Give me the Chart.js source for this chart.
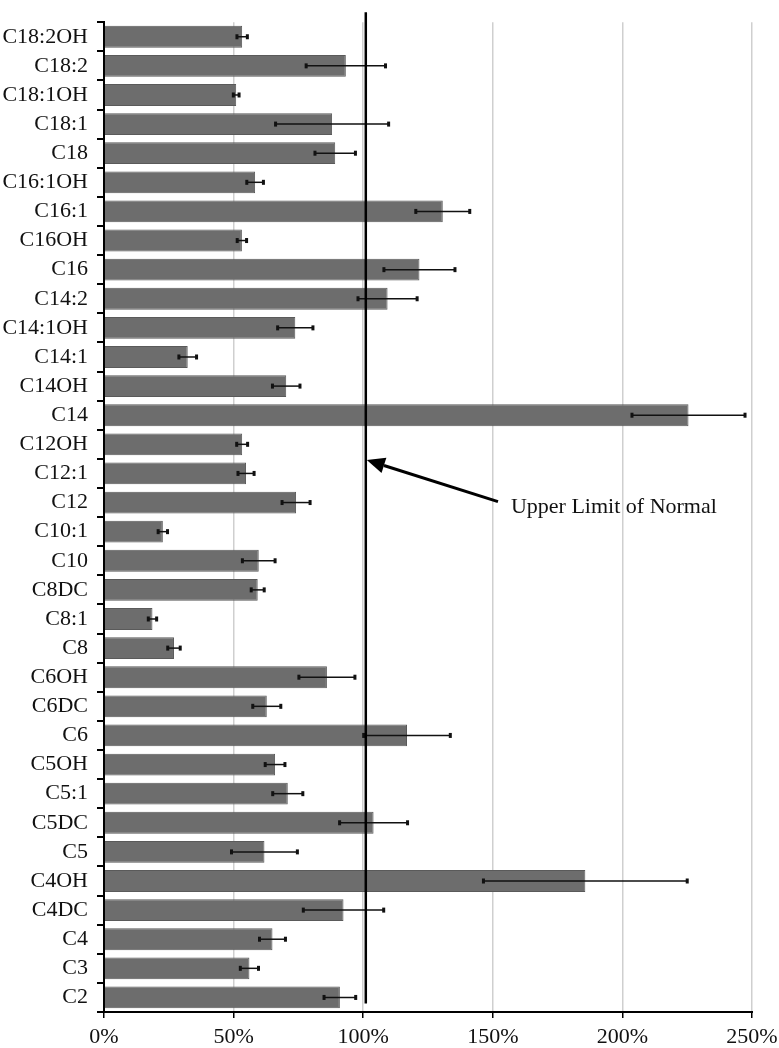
<!DOCTYPE html>
<html>
<head>
<meta charset="utf-8">
<script src="https://cdn.jsdelivr.net/npm/chart.js@4.4.0/dist/chart.umd.min.js"></script>
<style>
  html, body { margin: 0; padding: 0; background: #fff; }
  #wrap { width: 779px; height: 1048px; }
</style>
</head>
<body>
<div id="wrap"><canvas id="acylChart" width="779" height="1048"></canvas></div>
<script>
const labels = ['C18:2OH', 'C18:2', 'C18:1OH', 'C18:1', 'C18', 'C16:1OH', 'C16:1', 'C16OH', 'C16',
  'C14:2', 'C14:1OH', 'C14:1', 'C14OH', 'C14', 'C12OH', 'C12:1', 'C12', 'C10:1', 'C10', 'C8DC',
  'C8:1', 'C8', 'C6OH', 'C6DC', 'C6', 'C5OH', 'C5:1', 'C5DC', 'C5', 'C4OH', 'C4DC', 'C4', 'C3', 'C2'];
const values = [53.3, 93.3, 51, 88, 89.2, 58.3, 130.7, 53.2, 121.7,
  109.4, 73.8, 32.3, 70.3, 225.5, 53.3, 54.8, 74.1, 22.7, 59.7, 59.3,
  18.7, 27, 86, 62.8, 116.9, 66, 70.9, 104, 61.9, 185.7, 92.4, 65, 56.1, 91];
const errors = [2.2, 15.5, 1.3, 22, 8, 3.4, 10.6, 2, 13.9,
  11.6, 7, 3.6, 5.5, 22, 2.3, 3.3, 5.6, 2, 6.5, 2.7,
  1.8, 2.6, 11, 5.6, 16.9, 4, 6, 13.3, 12.9, 39.5, 15.7, 5.2, 3.7, 6.3];
const xTicks = [0, 50, 100, 150, 200, 250];
const upperLimit = 101;
const noteText = 'Upper Limit of Normal';

const serif = '"Liberation Serif", "Times New Roman", serif';

// error bars, limit line and the arrow note
const overlay = {
  id: 'overlay',
  afterDatasetsDraw(chart) {
    const { ctx, chartArea, scales: { x, y } } = chart;
    ctx.save();

    // axis lines on top of the bars
    ctx.strokeStyle = '#000';
    ctx.lineWidth = 2;
    ctx.beginPath();
    ctx.moveTo(chartArea.left, chartArea.top);
    ctx.lineTo(chartArea.left, chartArea.bottom);
    ctx.lineTo(chartArea.right + 1, chartArea.bottom);
    ctx.stroke();

    ctx.strokeStyle = '#111';
    ctx.fillStyle = '#111';
    ctx.lineWidth = 1.5;
    values.forEach((v, i) => {
      const cy = y.getPixelForValue(i);
      const x1 = x.getPixelForValue(v - errors[i]);
      const x2 = x.getPixelForValue(v + errors[i]);
      ctx.beginPath();
      ctx.moveTo(x1, cy);
      ctx.lineTo(x2, cy);
      ctx.stroke();
      ctx.fillRect(x1 - 1, cy - 2.5, 3, 5);
      ctx.fillRect(x2 - 2, cy - 2.5, 3, 5);
    });

    const lx = x.getPixelForValue(upperLimit);
    ctx.strokeStyle = '#000';
    ctx.lineWidth = 2.5;
    ctx.beginPath();
    ctx.moveTo(lx, chartArea.top - 10);
    ctx.lineTo(lx, y.getPixelForValue(labels.length - 1) + 6);
    ctx.stroke();

    // arrow from the note to the line
    const tipX = lx + 1, tipY = y.getPixelForValue(14.54);
    const tailX = x.getPixelForValue(152), tailY = y.getPixelForValue(15.97);
    const ang = Math.atan2(tipY - tailY, tipX - tailX);
    const headLen = 18, headW = 8;
    const bx = tipX - headLen * Math.cos(ang), by = tipY - headLen * Math.sin(ang);
    ctx.lineWidth = 3;
    ctx.beginPath();
    ctx.moveTo(tailX, tailY);
    ctx.lineTo(bx, by);
    ctx.stroke();
    ctx.fillStyle = '#000';
    ctx.beginPath();
    ctx.moveTo(tipX, tipY);
    ctx.lineTo(bx + headW * Math.sin(ang), by - headW * Math.cos(ang));
    ctx.lineTo(bx - headW * Math.sin(ang), by + headW * Math.cos(ang));
    ctx.closePath();
    ctx.fill();

    ctx.font = '22px ' + serif;
    ctx.textAlign = 'left';
    ctx.textBaseline = 'alphabetic';
    ctx.fillStyle = '#111';
    ctx.fillText(noteText, x.getPixelForValue(157), y.getPixelForValue(16.08) + 8);

    ctx.restore();
  }
};

const ctx = document.getElementById('acylChart').getContext('2d');
new Chart(ctx, {
  type: 'bar',
  data: {
    labels,
    datasets: [{
      data: values,
      backgroundColor: '#6d6d6d',
      borderColor: '#5a5a5a',
      borderWidth: 1,
      barPercentage: 0.75,
      categoryPercentage: 1
    }]
  },
  options: {
    indexAxis: 'y',
    responsive: false,
    animation: false,
    layout: { padding: { top: 13, right: 27, left: 0, bottom: 0 } },
    plugins: { legend: { display: false }, tooltip: { enabled: false } },
    scales: {
      x: {
        min: 0,
        max: 250,
        afterBuildTicks: s => { s.ticks = xTicks.map(v => ({ value: v })); },
        afterFit: s => { s.height = 36; s.paddingRight = 0; },
        grid: { color: '#cfcfcf', lineWidth: 1.5, tickColor: '#000', tickLength: 6 },
        border: { color: '#000', width: 2 },
        ticks: {
          callback: v => v + '%',
          color: '#111',
          padding: 6,
          maxRotation: 0,
          font: { family: serif, size: 22 }
        }
      },
      y: {
        afterFit: s => { s.width = 104; },
        grid: { drawOnChartArea: false, tickColor: '#000', tickLength: 7, lineWidth: 2 },
        border: { color: '#000', width: 2 },
        ticks: {
          color: '#111',
          padding: 9,
          autoSkip: false,
          font: { family: serif, size: 22 }
        }
      }
    }
  },
  plugins: [overlay]
});
</script>
</body>
</html>
